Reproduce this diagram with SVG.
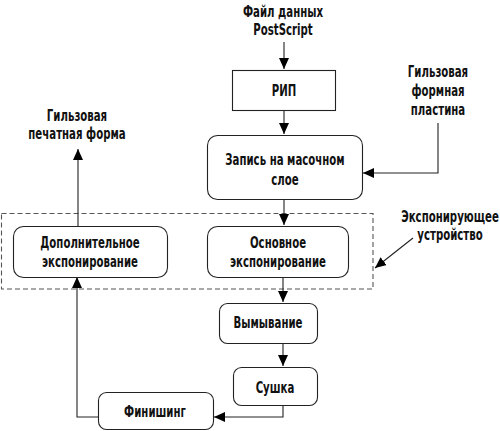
<svg xmlns="http://www.w3.org/2000/svg" width="500" height="431" viewBox="0 0 500 431">
<defs>
<marker id="ah" markerWidth="12" markerHeight="10" refX="11" refY="5" orient="auto" markerUnits="userSpaceOnUse">
<path d="M0,0 L11,5 L0,10 Z" fill="#000"/>
</marker>
<style>
.box{fill:#fff;stroke:#222;stroke-width:1.1}
.t{font-family:"DejaVu Sans",sans-serif;font-size:15px;fill:#111;text-anchor:middle;dominant-baseline:central;font-weight:600}
.c{fill:none;stroke:#222;stroke-width:1.1}
.d{fill:none;stroke:#555;stroke-width:1.1;stroke-dasharray:5,3}
</style>
</defs>
<rect class="d" x="1.5" y="213.5" width="371.5" height="75.5"/>
<g id="connectors">
<path class="c" d="M284,42 V69" marker-end="url(#ah)"/>
<path class="c" d="M284,110 V134" marker-end="url(#ah)"/>
<path class="c" d="M438,123 V173 H363" marker-end="url(#ah)"/>
<path class="c" d="M284,199 V225" marker-end="url(#ah)"/>
<path class="c" d="M78,226 V149" marker-end="url(#ah)"/>
<path class="c" d="M283,277 V302" marker-end="url(#ah)"/>
<path class="c" d="M283,343 V366" marker-end="url(#ah)"/>
<path class="c" d="M283,405 V417 H214" marker-end="url(#ah)"/>
<path class="c" d="M98,417 H77 V277" marker-end="url(#ah)"/>
<path class="c" d="M413,238 L375,268" marker-end="url(#ah)"/>
</g>
<g id="n-input"><text class="t" transform="translate(283,12) scale(0.68,1)">Файл данных</text><text class="t" transform="translate(283,30) scale(0.68,1)">PostScript</text></g>
<g id="n-rip"><rect class="box" x="232.5" y="70.5" width="103" height="40"/><text class="t" transform="translate(284,91) scale(0.68,1)">РИП</text></g>
<g id="n-plate"><text class="t" transform="translate(438,72) scale(0.68,1)">Гильзовая</text><text class="t" transform="translate(438,91) scale(0.68,1)">формная</text><text class="t" transform="translate(438,110) scale(0.68,1)">пластина</text></g>
<g id="n-mask"><rect class="box" x="207.5" y="135.5" width="155" height="64" rx="10"/><text class="t" transform="translate(285,160) scale(0.68,1)">Запись на масочном</text><text class="t" transform="translate(285,180) scale(0.68,1)">слое</text></g>
<g id="n-form"><text class="t" transform="translate(77,116) scale(0.68,1)">Гильзовая</text><text class="t" transform="translate(77,134) scale(0.68,1)">печатная форма</text></g>
<g id="n-device"><text class="t" transform="translate(450,217) scale(0.68,1)">Экспонирующее</text><text class="t" transform="translate(450,235) scale(0.68,1)">устройство</text></g>
<g id="n-extra"><rect class="box" x="13.5" y="226.5" width="154" height="51" rx="10"/><text class="t" transform="translate(90,243) scale(0.68,1)">Дополнительное</text><text class="t" transform="translate(90,262) scale(0.68,1)">экспонирование</text></g>
<g id="n-main"><rect class="box" x="207.5" y="226.5" width="141" height="51" rx="10"/><text class="t" transform="translate(278,243) scale(0.68,1)">Основное</text><text class="t" transform="translate(278,262) scale(0.68,1)">экспонирование</text></g>
<g id="n-wash"><rect class="box" x="219.5" y="303.5" width="98" height="40" rx="8"/><text class="t" transform="translate(268,323) scale(0.68,1)">Вымывание</text></g>
<g id="n-dry"><rect class="box" x="233.5" y="367.5" width="84" height="38" rx="8"/><text class="t" transform="translate(275,388) scale(0.68,1)">Сушка</text></g>
<g id="n-finish"><rect class="box" x="98.5" y="392.5" width="115" height="37" rx="8"/><text class="t" transform="translate(155,412) scale(0.68,1)">Финишинг</text></g>
</svg>
